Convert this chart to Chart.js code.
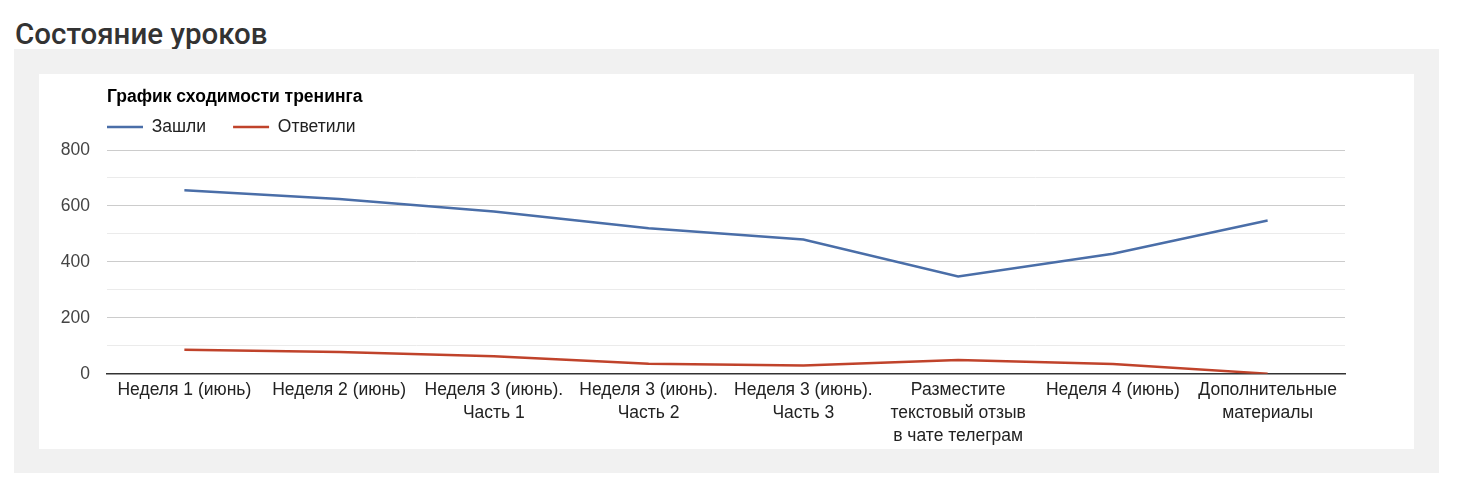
<!DOCTYPE html>
<html lang="ru">
<head>
<meta charset="utf-8">
<title>Состояние уроков</title>
<script src="https://cdn.jsdelivr.net/npm/chart.js@4"></script>
<style>
  body { margin: 0; background: #fff; font-family: "Liberation Sans", Arial, sans-serif; }
  h2 {
    position: absolute; left: 15px; top: 17px; margin: 0;
    font: 500 29.5px Roboto, sans-serif; color: #333;
  }
  .panel {
    position: absolute; left: 14px; top: 49px; width: 1425px; height: 424px;
    background: #f1f1f1;
  }
  .card {
    position: absolute; left: 25px; top: 25px; width: 1375px; height: 375px;
    background: #fff;
  }
</style>
</head>
<body>
<h2>Состояние уроков</h2>
<div class="panel">
  <div class="card"><canvas id="lessonsChart"></canvas></div>
</div>
<script>
const lessons = [
    'Неделя 1 (июнь)',
    'Неделя 2 (июнь)',
    ['Неделя 3 (июнь).', 'Часть 1'],
    ['Неделя 3 (июнь).', 'Часть 2'],
    ['Неделя 3 (июнь).', 'Часть 3'],
    ['Разместите', 'текстовый отзыв', 'в чате телеграм'],
    'Неделя 4 (июнь)',
    ['Дополнительные', 'материалы']
];
const entered = [656, 625, 580, 520, 480, 348, 429, 548];
const answered = [86, 78, 62, 36, 29, 49, 35, 0];
const yTicks = [0, 200, 400, 600, 800];

const FONT = '"Liberation Sans", Arial';
const FONT_SIZE = 17.5;

// title and legend start at the left edge of the plot, legend sits 23px above it
const alignToPlot = {
    id: 'alignToPlot',
    afterLayout(chart) {
        const area = chart.chartArea;
        const legend = chart.legend;
        const pad = legend.options.labels.padding;
        chart.titleBlock.left = area.left;
        legend.left = area.left - pad;
        legend.top = area.top - 23 - FONT_SIZE / 2 - pad;
    }
};

const ctx = document.getElementById('lessonsChart').getContext('2d');
new Chart(ctx, {
    type: 'line',
    data: {
        labels: lessons,
        datasets: [{
            label: 'Зашли',
            data: entered,
            borderColor: '#4a6ea8',
            backgroundColor: '#4a6ea8',
            borderWidth: 2.5,
            pointRadius: 0,
            fill: false
        }, {
            label: 'Ответили',
            data: answered,
            borderColor: '#c0432b',
            backgroundColor: '#c0432b',
            borderWidth: 2.5,
            pointRadius: 0,
            fill: false
        }]
    },
    options: {
        responsive: true,
        maintainAspectRatio: false,
        animation: false,
        layout: { padding: { right: 69, bottom: -4 } },
        plugins: {
            title: {
                display: true,
                text: 'График сходимости тренинга',
                align: 'start',
                color: '#000',
                font: { family: FONT, size: FONT_SIZE, weight: 'bold', lineHeight: 1.2 },
                padding: { top: 12.5, bottom: 0 }
            },
            legend: {
                align: 'start',
                maxHeight: 42.5,
                labels: {
                    boxWidth: 36,
                    boxHeight: 0,
                    padding: 27,
                    color: '#222',
                    font: { family: FONT, size: FONT_SIZE },
                    generateLabels(chart) {
                        return chart.data.datasets.map((ds, i) => ({
                            text: ds.label,
                            fillStyle: ds.borderColor,
                            strokeStyle: ds.borderColor,
                            lineWidth: 2.5,
                            fontColor: '#222',
                            datasetIndex: i
                        }));
                    }
                }
            },
            tooltip: { enabled: false }
        },
        scales: {
            x: {
                offset: true,
                grid: { display: false, drawTicks: false },
                border: { color: '#333', width: 1.5 },
                ticks: {
                    color: '#222',
                    maxRotation: 0,
                    autoSkip: false,
                    padding: 5,
                    font: { family: FONT, size: FONT_SIZE, lineHeight: 1.32 }
                }
            },
            y: {
                min: 0,
                max: 800,
                afterFit(scale) { scale.width = 68; },
                border: { display: false },
                grid: {
                    drawTicks: false,
                    color: c => yTicks.includes(c.tick.value) ? '#cccccc' : '#ebebeb'
                },
                ticks: {
                    stepSize: 100,
                    padding: 17,
                    color: '#444',
                    font: { family: FONT, size: FONT_SIZE },
                    callback: v => yTicks.includes(v) ? v : ''
                }
            }
        }
    },
    plugins: [alignToPlot]
});
</script>
</body>
</html>
